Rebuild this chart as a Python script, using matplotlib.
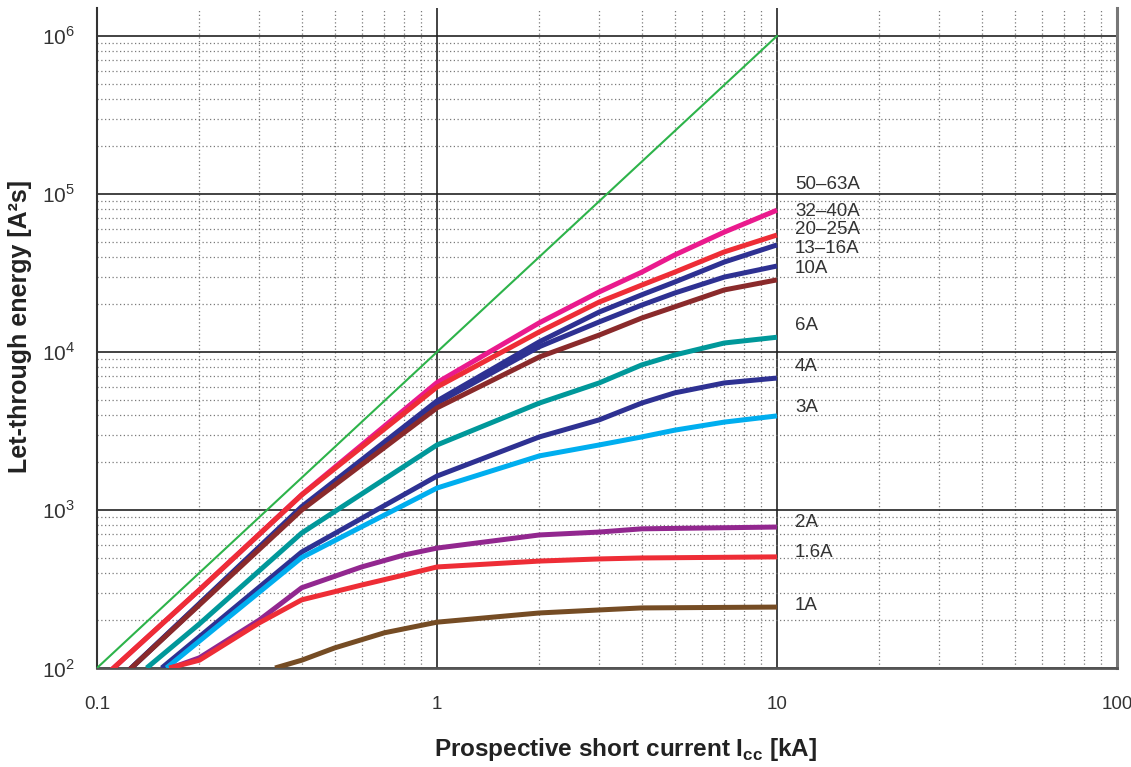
import matplotlib
matplotlib.use("Agg")
import matplotlib.pyplot as plt
from matplotlib.ticker import LogLocator, FixedLocator, FixedFormatter, NullFormatter

# ---- data ----
ref_x = [0.1, 10]
ref_y = [100, 1e6]

x_5063 = [0.109, 0.2, 0.4, 1, 2, 3, 4, 5, 7, 10]
y_5063 = [95, 312, 1250, 6400, 15300, 24000, 32000, 41100, 57400, 79000]

x_3240 = [0.109, 0.2, 0.4, 1, 2, 3, 4, 5, 7, 10]
y_3240 = [95, 312, 1245, 6000, 13400, 20700, 26500, 32000, 43000, 55000]

x_2025 = [0.123, 0.4, 1, 2, 3, 4, 5, 7, 10]
y_2025 = [95, 1050, 4900, 11600, 17900, 23000, 27700, 37100, 47600]

x_1316 = [0.123, 0.4, 1, 2, 3, 4, 5, 7, 10]
y_1316 = [95, 1030, 4750, 10800, 15500, 19800, 23600, 29800, 35000]

x_10 = [0.123, 0.4, 1, 2, 3, 4, 5, 7, 10]
y_10 = [95, 1000, 4430, 9300, 12800, 16400, 19300, 24700, 28600]

x_6 = [0.14, 0.2, 0.4, 1, 2, 3, 4, 5, 7, 10]
y_6 = [100, 190, 715, 2580, 4750, 6370, 8280, 9570, 11400, 12400]

x_4 = [0.155, 0.4, 1, 2, 3, 4, 5, 7, 10]
y_4 = [100, 542, 1640, 2900, 3720, 4750, 5510, 6370, 6840]

x_3 = [0.16, 0.4, 1, 2, 3, 4, 5, 7, 10]
y_3 = [100, 500, 1377, 2200, 2580, 2900, 3200, 3600, 3940]

x_2 = [0.165, 0.2, 0.3, 0.4, 0.6, 0.8, 1, 2, 3, 4, 10]
y_2 = [100, 116, 201, 322, 436, 519, 574, 695, 725, 760, 780]

x_16 = [0.163, 0.2, 0.3, 0.4, 0.6, 0.8, 1, 2, 3, 4, 10]
y_16 = [100, 112, 193, 270, 335, 388, 436, 475, 490, 497, 505]

x_1 = [0.334, 0.4, 0.5, 0.7, 1, 2, 3, 4, 10]
y_1 = [100, 112, 134, 167, 195, 223, 233, 240, 243]

labels = ["50–63A", "32–40A", "20–25A", "13–16A", "10A", "6A", "4A", "3A", "2A", "1.6A", "1A"]
label_y = [115600, 78000, 60000, 45500, 34000, 14800, 8040, 4430, 828, 535, 250]
label_x = 11.3

x_ticks = [0.1, 1, 10, 100]
x_tick_labels = ["0.1", "1", "10", "100"]
y_ticks = [1e2, 1e3, 1e4, 1e5, 1e6]
y_tick_labels = [r"$10^2$", r"$10^3$", r"$10^4$", r"$10^5$", r"$10^6$"]

# ---- figure ----
plt.rcParams['font.family'] = ['Liberation Sans', 'DejaVu Sans']
plt.rcParams['mathtext.fontset'] = 'custom'
plt.rcParams['mathtext.rm'] = 'Liberation Sans'
plt.rcParams['mathtext.bf'] = 'Liberation Sans:bold'

fig = plt.figure(figsize=(11.31, 7.67), dpi=100)
ax = fig.add_axes([97/1131, 1 - 668/767, (1117-97)/1131, (668-8)/767])
ax.set_xscale('log')
ax.set_yscale('log')
ax.set_xlim(0.1, 100)
ax.set_ylim(100, 10**6.177)

# grid
ax.xaxis.set_minor_locator(LogLocator(base=10, subs=range(2, 10)))
ax.yaxis.set_minor_locator(LogLocator(base=10, subs=range(2, 10)))
ax.xaxis.set_minor_formatter(NullFormatter())
ax.yaxis.set_minor_formatter(NullFormatter())
ax.grid(which='minor', color='#7a7a7a', linestyle=(0, (1, 2)), linewidth=0.9)
ax.grid(which='major', color='#222222', linestyle='-', linewidth=1.2)
ax.set_axisbelow(True)

ax.xaxis.set_major_locator(FixedLocator(x_ticks))
ax.xaxis.set_major_formatter(FixedFormatter(x_tick_labels))
ax.yaxis.set_major_locator(FixedLocator(y_ticks))
ax.yaxis.set_major_formatter(FixedFormatter(y_tick_labels))
ax.tick_params(which='both', length=0)
ax.tick_params(axis='x', pad=20, labelsize=13.5, labelcolor='#333333')
ax.tick_params(axis='y', pad=16, labelsize=15, labelcolor='#333333')

ax.spines['top'].set_visible(False)
ax.spines['left'].set_color('#333333')
ax.spines['left'].set_linewidth(1.5)
ax.spines['bottom'].set_color('#555555')
ax.spines['bottom'].set_linewidth(2.0)
ax.spines['right'].set_color('#777777')
ax.spines['right'].set_linewidth(2.2)

# curves
lw = 3.6
ax.plot(ref_x, ref_y, color='#2db34a', lw=1.5, zorder=3)
series = [
    (x_5063, y_5063, '#ea1a8d'),
    (x_3240, y_3240, '#ee2d36'),
    (x_2025, y_2025, '#2e3192'),
    (x_1316, y_1316, '#2e3192'),
    (x_10, y_10, '#8a2a2b'),
    (x_6, y_6, '#00989a'),
    (x_4, y_4, '#2e3192'),
    (x_3, y_3, '#00aeef'),
    (x_2, y_2, '#92278f'),
    (x_16, y_16, '#ee2d36'),
    (x_1, y_1, '#754c24'),
]
for xs, ys, c in series:
    ax.plot(xs, ys, color=c, lw=lw, solid_joinstyle='round', solid_capstyle='butt', zorder=4)

for t, yv in zip(labels, label_y):
    ax.text(label_x, yv, t, fontsize=13.5, color='#333333', va='center', ha='left')

xl = ax.set_xlabel('Prospective short current I$_{\\mathregular{cc}}$ [kA]', fontsize=17.5, fontweight='bold', color='#222222')
yl = ax.set_ylabel('Let-through energy [A²s]', fontsize=18, fontweight='bold', color='#222222')
xl.set_va('center')
yl.set_va('center')
ax.xaxis.set_label_coords(0.518, -0.124)
ax.yaxis.set_label_coords(-0.075, 0.517)

fig.savefig('out.png', dpi=100)
